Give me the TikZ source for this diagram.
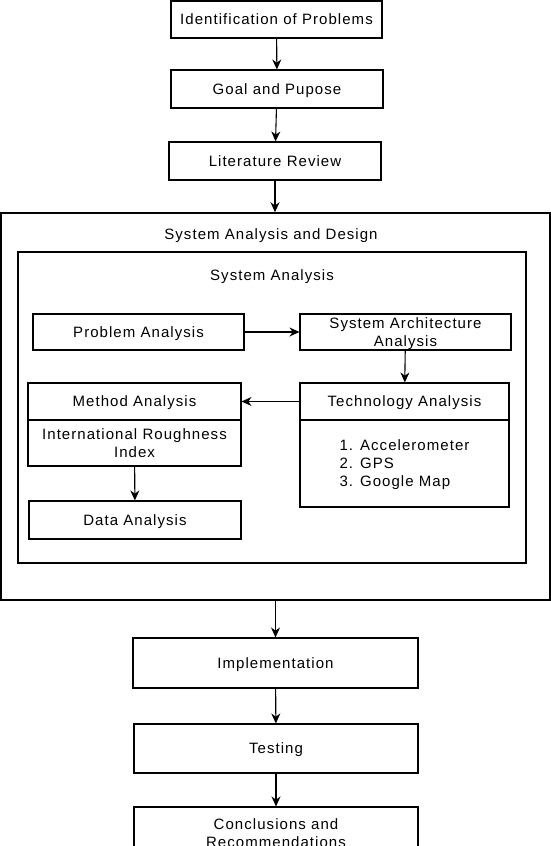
\documentclass[tikz,border=0pt]{standalone}
\usepackage{fontspec}
\setmainfont{Liberation Sans}[LetterSpace=7]
\usepackage{tikz}
\usetikzlibrary{arrows.meta}

\tikzset{
  box/.style={draw, line width=1.1pt, minimum height=38pt, inner sep=0pt,
    align=center, text depth=0pt, font=\fontsize{15}{18}\selectfont},
  frame/.style={draw, line width=1.5pt, inner sep=0pt},
  title/.style={text depth=0pt, font=\fontsize{15}{18}\selectfont},
  arr/.style={-{Stealth[length=10pt,width=9pt]}, line width=1.1pt}
}

\begin{document}
\begin{tikzpicture}[x=1pt,y=-1pt]
  \useasboundingbox (0,0) rectangle (551,846);
  % top of the flow
  \node[box, minimum width=211pt, minimum height=37pt] (idprob) at (276.5,19.5) {Identification of Problems};
  \node[box, minimum width=212pt] (goal) at (277,89) {Goal and Pupose};
  \node[box, minimum width=212pt] (litrev) at (275,161) {Literature Review};
  % system analysis and design
  \node[frame, minimum width=549pt, minimum height=387pt] (sad) at (275.5,406.5) {};
  \node[title] (sadtitle) at (271,234) {System Analysis and Design};
  \node[draw, line width=1.1pt, minimum width=508pt, minimum height=311pt] (sysan) at (272,407.5) {};
  \node[title] (sysantitle) at (272,275) {System Analysis};
  \node[box, minimum width=211pt, minimum height=36pt] (probana) at (138.5,332) {Problem Analysis};
  \node[box, minimum width=211pt, minimum height=36pt] (sysarch) at (405.5,332) {System Architecture\\Analysis};
  \node[box, minimum width=209pt, minimum height=37pt] (techana) at (404.5,401.5) {Technology Analysis};
  \node[box, minimum width=209pt, minimum height=87pt] (techbody) at (404.5,463.5) {};
  \node[align=left, title] (techlist) at (techbody) {1. Accelerometer\\2. GPS\\3. Google Map};
  \node[box, minimum width=213pt, minimum height=37pt] (methana) at (134.5,401.5) {Method Analysis};
  \node[box, minimum width=213pt, minimum height=46pt] (iri) at (134.5,443) {International Roughness\\Index};
  \node[box, minimum width=212pt] (dataana) at (135,520) {Data Analysis};
  % bottom of the flow
  \node[box, minimum width=285pt, minimum height=50pt] (impl) at (275.5,663) {Implementation};
  \node[box, minimum width=284pt, minimum height=49pt] (testing) at (276,748.5) {Testing};
  \node[box, minimum width=284pt, minimum height=52pt] (concl) at (276,833) {Conclusions and\\Recommendations};
  % arrows
  \draw[arr] (idprob) -- (goal);
  \draw[arr] (goal) -- (litrev);
  \draw[arr] (litrev) -- (litrev.south |- sad.north);
  \draw[arr] (probana) -- (sysarch);
  \draw[arr] (sysarch) -- (techana);
  \draw[arr] (techana) -- (methana);
  \draw[arr] (iri) -- (dataana);
  \draw[arr] (sad.south -| impl.north) -- (impl);
  \draw[arr] (impl) -- (testing);
  \draw[arr] (testing) -- (concl);
\end{tikzpicture}
\end{document}
